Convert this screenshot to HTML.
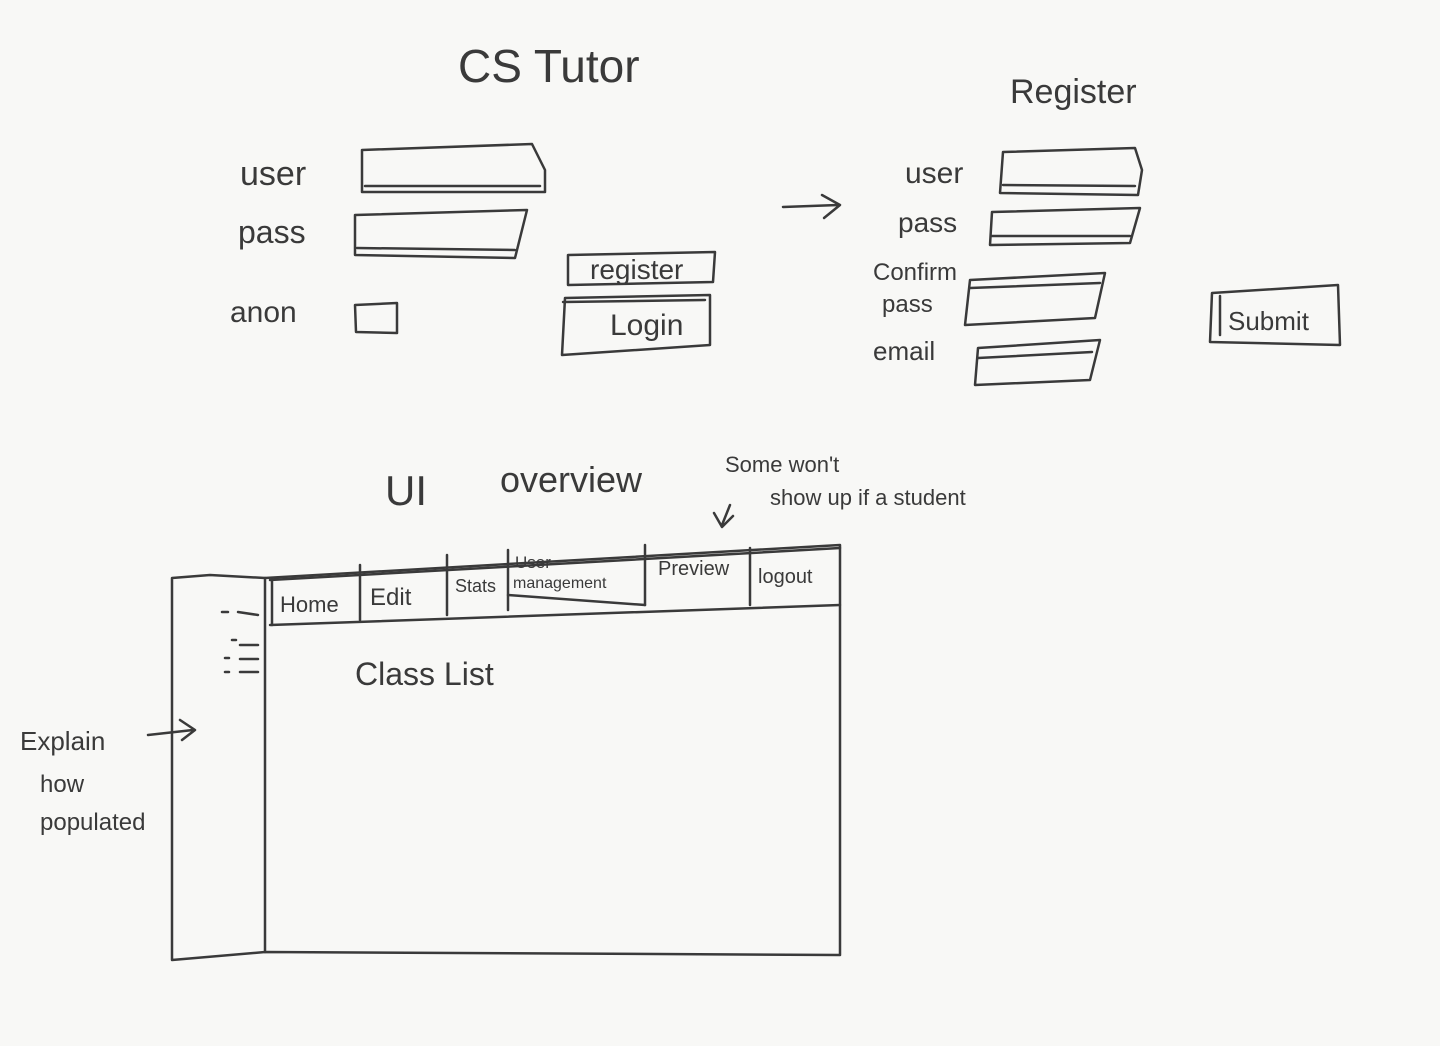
<!DOCTYPE html>
<html><head><meta charset="utf-8"><style>
html,body{margin:0;padding:0;background:#f8f8f6;}
svg{display:block}
text{font-family:"Liberation Sans",sans-serif;fill:#3a3a3a;}
</style></head><body>
<svg width="1440" height="1046" viewBox="0 0 1440 1046" xmlns="http://www.w3.org/2000/svg">
<rect width="1440" height="1046" fill="#f8f8f6"/>
<g fill="none" stroke="#3a3a3a" stroke-width="2.5" stroke-linecap="round" stroke-linejoin="round">
<path d="M362 150 L362 192 L545 192 L545 170 L532 144 L362 150"/>
<path d="M365 186 L540 186"/>
<path d="M355 215 L355 255 L515 258 L527 210 L355 215"/>
<path d="M357 248 L515 250"/>
<path d="M355 305 L397 303 L397 333 L356 332 Z"/>
<path d="M568 255 L715 252 L713 282 L568 285 Z"/>
<path d="M565 298 L710 295 L710 345 L562 355 Z"/>
<path d="M563 302 L705 300"/>
<path d="M783 207 L838 205 M822 195 L840 205 L824 218"/>
<path d="M1003 152 L1135 148 L1142 170 L1138 195 L1000 193 Z"/>
<path d="M1003 185 L1135 186"/>
<path d="M992 212 L1140 208 L1130 243 L990 245 Z"/>
<path d="M992 236 L1130 236"/>
<path d="M970 280 L1105 273 L1095 318 L965 325 Z"/>
<path d="M970 288 L1100 283"/>
<path d="M978 348 L1100 340 L1090 380 L975 385 Z"/>
<path d="M978 358 L1092 352"/>
<path d="M1212 293 L1338 285 L1340 345 L1210 342 Z"/>
<path d="M1220 296 L1220 335"/>
<path d="M730 505 L722 525 M714 513 L722 527 L733 516"/>
<path d="M172 578 L210 575 L265 578 L840 545 L840 955 L265 952 L172 960 Z"/>
<path d="M265 578 L265 952"/>
<path d="M270 625 L840 605"/>
<path d="M272 578 L272 625 M360 565 L360 620 M447 555 L447 615 M508 550 L508 610 M645 545 L645 605 M750 548 L750 605"/>
<path d="M270 580 L840 548"/>
<path d="M508 595 L645 605"/>
<path d="M222 612 L228 612 M238 612 L258 615 M232 640 L236 640 M240 645 L258 645 M225 658 L229 658 M240 659 L258 659 M225 672 L229 672 M240 672 L258 672"/>
<path d="M148 735 L193 730 M180 720 L195 730 L182 740"/>
</g>
<text x="458" y="82" font-size="46">CS Tutor</text>
<text x="1010" y="103" font-size="34">Register</text>
<text x="240" y="185" font-size="34">user</text>
<text x="238" y="243" font-size="32">pass</text>
<text x="230" y="322" font-size="30">anon</text>
<text x="590" y="279" font-size="28">register</text>
<text x="610" y="335" font-size="30">Login</text>
<text x="905" y="183" font-size="30">user</text>
<text x="898" y="232" font-size="28">pass</text>
<text x="873" y="280" font-size="24">Confirm</text>
<text x="882" y="312" font-size="24">pass</text>
<text x="873" y="360" font-size="26">email</text>
<text x="1228" y="330" font-size="26">Submit</text>
<text x="385" y="505" font-size="42">UI</text>
<text x="500" y="492" font-size="36">overview</text>
<text x="725" y="472" font-size="22">Some won't</text>
<text x="770" y="505" font-size="22">show up if a student</text>
<text x="280" y="612" font-size="22">Home</text>
<text x="370" y="605" font-size="24">Edit</text>
<text x="455" y="592" font-size="18">Stats</text>
<text x="515" y="568" font-size="17">User</text>
<text x="513" y="588" font-size="16">management</text>
<text x="658" y="575" font-size="20">Preview</text>
<text x="758" y="583" font-size="20">logout</text>
<text x="355" y="685" font-size="32">Class List</text>
<text x="20" y="750" font-size="26">Explain</text>
<text x="40" y="792" font-size="24">how</text>
<text x="40" y="830" font-size="24">populated</text>
</svg>
</body></html>
